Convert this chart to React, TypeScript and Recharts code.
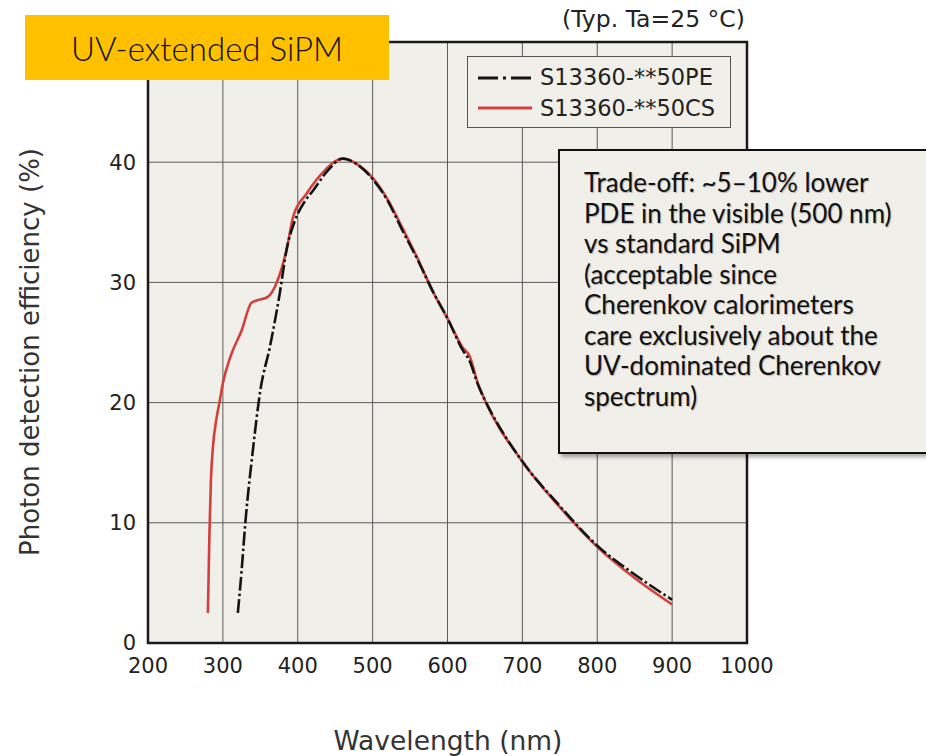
import { LineChart, Line, XAxis, YAxis, CartesianGrid, ReferenceArea } from 'recharts'

// S13360-**50PE (standard)
const peWavelength = [320, 325, 330, 340, 350, 363, 376, 385, 396, 410, 420, 440, 460, 480, 500, 520, 540, 560, 580, 600, 620, 630, 640, 650, 660, 700, 750, 800, 850, 900]
const pePde = [2.5, 6, 10, 16, 21, 24.7, 29.1, 32.7, 35.1, 36.8, 37.6, 39.3, 40.3, 39.8, 38.6, 36.8, 34.3, 31.9, 29.3, 27, 24.4, 23.4, 21.6, 20.2, 19, 15.1, 11.4, 8.1, 5.7, 3.6]

// S13360-**50CS (UV-extended)
const csWavelength = [280, 282, 284, 287, 291, 296, 300, 310, 325, 338, 345, 360, 372, 385, 394, 412, 430, 461, 480, 500, 520, 540, 560, 580, 600, 620, 630, 640, 650, 700, 750, 800, 850, 900]
const csPde = [2.5, 9, 13.5, 16.5, 18.5, 20.2, 21.6, 23.8, 26, 28.3, 28.5, 28.8, 30, 32.7, 35.5, 37.4, 38.9, 40.3, 39.8, 38.7, 36.9, 34.5, 32, 29.3, 27, 24.6, 23.8, 21.7, 20.2, 15.1, 11.3, 8.0, 5.4, 3.2]

const xTicks = [200, 300, 400, 500, 600, 700, 800, 900, 1000]
const yTicks = [0, 10, 20, 30, 40]

const noteLines = [
  'Trade-off: ~5–10% lower',
  'PDE in the visible (500 nm)',
  'vs standard SiPM',
  '(acceptable since',
  'Cherenkov calorimeters',
  'care exclusively about the',
  'UV-dominated Cherenkov',
  'spectrum)',
]

const peData = peWavelength.map((w, i) => ({ w, pde: pePde[i] }))
const csData = csWavelength.map((w, i) => ({ w, pde: csPde[i] }))

const plotBg = '#f1efea'
const sans = '"DejaVu Sans", Verdana, sans-serif'
const gill = 'Lato, "Open Sans", sans-serif'

export default function App() {
  return (
    <div style={{ position: 'absolute', left: 0, top: 0, width: 926, height: 756, background: '#fff', overflow: 'hidden' }}>
      <LineChart
        width={926}
        height={756}
        margin={{ top: 42, right: 179, bottom: 83, left: 0 }}
      >
        <CartesianGrid stroke="#5a5a5a" strokeWidth={1} fill={plotBg} />
        <XAxis
          type="number"
          dataKey="w"
          domain={[200, 1000]}
          ticks={xTicks}
          allowDuplicatedCategory={false}
          axisLine={false}
          tickLine={false}
          height={30}
          tickSize={6}
          tickMargin={9}
          tick={{ fill: '#222', fontSize: 21, fontFamily: sans }}
        />
        <YAxis
          type="number"
          domain={[0, 50]}
          ticks={yTicks}
          axisLine={false}
          tickLine={false}
          tickSize={6}
          tickMargin={6}
          width={148}
          tick={{ fill: '#222', fontSize: 21, fontFamily: sans }}
        />
        <ReferenceArea x1={200} x2={1000} y1={0} y2={50} fill="none" stroke="#1a1a1a" strokeWidth={2.5} />
        <Line
          data={csData}
          dataKey="pde"
          type="monotone"
          stroke="#d2403c"
          strokeWidth={2.6}
          dot={false}
          isAnimationActive={false}
        />
        <Line
          data={peData}
          dataKey="pde"
          type="monotone"
          stroke="#141414"
          strokeWidth={2.6}
          strokeDasharray="14 3 2.5 3"
          dot={false}
          isAnimationActive={false}
        />
      </LineChart>

      {/* legend */}
      <div style={{ position: 'absolute', left: 467, top: 56, width: 262, height: 70, border: '1.5px solid #555', background: plotBg, fontFamily: sans, fontSize: 22.5, color: '#222' }}>
        <svg width={60} height={70} style={{ position: 'absolute', left: 8, top: 0 }}>
          <line x1={2} x2={56} y1={21} y2={21} stroke="#141414" strokeWidth={3} strokeDasharray="20 5 3 5" />
          <line x1={2} x2={56} y1={51} y2={51} stroke="#d2403c" strokeWidth={3} />
        </svg>
        <div style={{ position: 'absolute', left: 72, top: 6, lineHeight: '28px', whiteSpace: 'nowrap' }}>S13360-**50PE</div>
        <div style={{ position: 'absolute', left: 72, top: 37, lineHeight: '28px', whiteSpace: 'nowrap' }}>S13360-**50CS</div>
      </div>

      <div style={{ position: 'absolute', left: 562, top: 5, fontFamily: sans, fontSize: 23.5, color: '#222', whiteSpace: 'nowrap' }}>(Typ. Ta=25 °C)</div>

      {/* title tag */}
      <div style={{ position: 'absolute', left: 25, top: 15, width: 364, height: 65, background: '#ffc000', fontFamily: gill, fontWeight: 300, fontSize: 33, color: '#111', display: 'flex', alignItems: 'center', justifyContent: 'center' }}>UV-extended SiPM</div>

      {/* note box */}
      <div style={{ position: 'absolute', left: 558, top: 149, width: 380, height: 301, border: '2px solid #111', background: plotBg, boxShadow: '3px 3px 4px rgba(0,0,0,0.35)', fontFamily: gill, fontSize: 26, color: '#111' }}>
        <div style={{ position: 'absolute', left: 24, top: 16, lineHeight: '30.5px', textShadow: '1px 1px 1px rgba(0,0,0,0.25)', whiteSpace: 'nowrap' }}>
          {noteLines.map((t, i) => (
            <div key={i}>{t}</div>
          ))}
        </div>
      </div>

      <div style={{ position: 'absolute', left: 30, top: 352, transform: 'translate(-50%, -50%) rotate(-90deg)', fontFamily: sans, fontSize: 26, color: '#333', whiteSpace: 'nowrap' }}>Photon detection efficiency (%)</div>
      <div style={{ position: 'absolute', left: 448, top: 740, transform: 'translate(-50%, -50%)', fontFamily: sans, fontSize: 26.5, color: '#333', whiteSpace: 'nowrap' }}>Wavelength (nm)</div>
    </div>
  )
}
